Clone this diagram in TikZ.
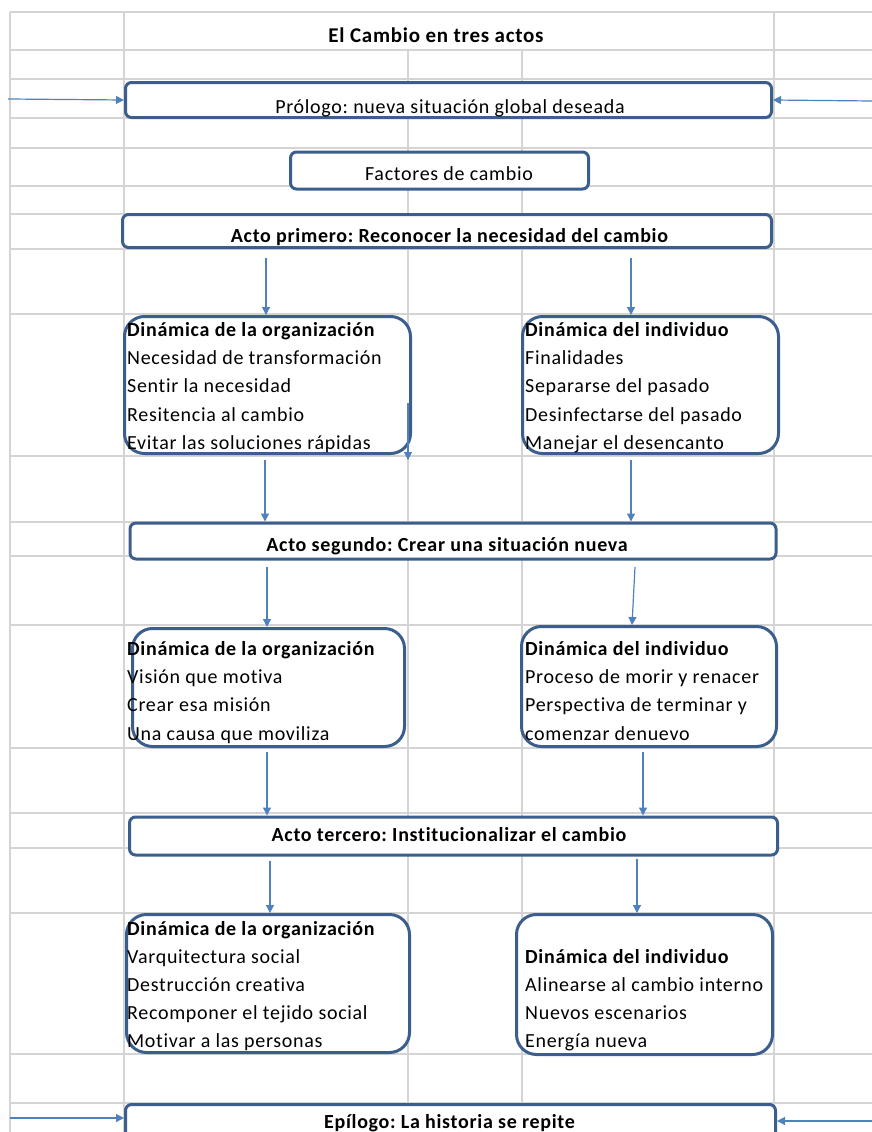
\documentclass[tikz,border=0pt]{standalone}
\usepackage{fontspec}
\setmainfont{Carlito}[LetterSpace=3.5, Ligatures=NoCommon]
\usetikzlibrary{arrows.meta}
\definecolor{gridgray}{RGB}{212,212,212}
\definecolor{boxblue}{RGB}{59,94,140}
\definecolor{arrblue}{RGB}{79,129,189}
\frenchspacing

\begin{document}
\begin{tikzpicture}[x=1pt, y=-1pt, every node/.style={font=\fontsize{20}{28}\selectfont}]
    \tikzstyle{gridl}=[gridgray, line width=1.5pt]
    \tikzstyle{arrs}=[arrblue, line width=1.2pt, -{Triangle[length=8pt,width=8pt]}]
    \tikzstyle{actbox}=[draw=boxblue, fill=white, line width=3pt, rounded corners=6pt, inner sep=0pt]
    \tikzstyle{dynbox}=[actbox, rounded corners=20pt]
    \tikzstyle{txt}=[inner sep=0pt, anchor=base]
    \tikzstyle{ltxt}=[inner sep=0pt, anchor=base west]

    \clip (0,0) rectangle (872,1132);

    % hoja de calculo
    \foreach \y in {12,50,79,118,148,186,214,249,314,456,522,556,625,748,813,848,913,1054,1103}
        \draw[gridl] (10,\y) -- (872,\y);
    \foreach \x in {10,124,774} \draw[gridl] (\x,12) -- (\x,1132);
    \foreach \x in {408,522} \draw[gridl] (\x,50) -- (\x,1132);

    % cajas
    \node[actbox, minimum width=646pt, minimum height=35pt] (prologo) at (448.5,100) {};
    \node[actbox, minimum width=298pt, minimum height=37pt] (factores) at (439.5,170.5) {};
    \node[actbox, minimum width=649pt, minimum height=33pt] (acto1) at (447,231) {};
    \node[dynbox, minimum width=286pt, minimum height=137pt] (org1) at (267.5,385) {};
    \node[dynbox, minimum width=256pt, minimum height=137pt] (ind1) at (650.5,385) {};
    \node[actbox, minimum width=646pt, minimum height=36pt] (acto2) at (453,541) {};
    \node[dynbox, minimum width=272pt, minimum height=118pt] (org2) at (268.5,687.5) {};
    \node[dynbox, minimum width=255pt, minimum height=120pt] (ind2) at (649,686.5) {};
    \node[actbox, minimum width=648pt, minimum height=38pt] (acto3) at (453.5,836) {};
    \node[dynbox, minimum width=283pt, minimum height=138pt] (org3) at (268,983.5) {};
    \node[dynbox, minimum width=256pt, minimum height=140pt] (ind3) at (644.5,984.5) {};
    \node[actbox, minimum width=650pt, minimum height=60pt] (epilogo) at (450.5,1134.5) {};

    % textos
    \node[txt, font=\fontsize{21}{28}\selectfont] (titulo) at (436,43) {\bfseries El Cambio en tres actos};
    \node[txt] (prologo-t) at (450,113) {Prólogo: nueva situación global deseada};
    \node[txt] (factores-t) at (449,180) {Factores de cambio};
    \node[txt] (acto1-t) at (449.5,242) {\bfseries Acto primero: Reconocer la necesidad del cambio};
    \node[txt] (acto2-t) at (447,551) {\bfseries Acto segundo: Crear una situación nueva};
    \node[txt] (acto3-t) at (449,841) {\bfseries Acto tercero: Institucionalizar el cambio};
    \node[txt] (epilogo-t) at (449.5,1128) {\bfseries Epílogo: La historia se repite};

    \foreach \t [count=\i] in {{\bfseries Dinámica de la organización}, Necesidad de transformación,
            Sentir la necesidad, Resitencia al cambio, Evitar las soluciones rápidas}
        \node[ltxt] (org1-\i) at (127, 336+28.4*\i-28.4) {\t};
    \foreach \t [count=\i] in {{\bfseries Dinámica del individuo}, Finalidades,
            Separarse del pasado, Desinfectarse del pasado, Manejar el desencanto}
        \node[ltxt] (ind1-\i) at (525, 336+28.4*\i-28.4) {\t};
    \foreach \t [count=\i] in {{\bfseries Dinámica de la organización}, Visión que motiva,
            Crear esa misión, Una causa que moviliza}
        \node[ltxt] (org2-\i) at (127, 655+28.4*\i-28.4) {\t};
    \foreach \t [count=\i] in {{\bfseries Dinámica del individuo}, Proceso de morir y renacer,
            Perspectiva de terminar y, comenzar denuevo}
        \node[ltxt] (ind2-\i) at (525, 655+28.4*\i-28.4) {\t};
    \foreach \t [count=\i] in {{\bfseries Dinámica de la organización}, Varquitectura social,
            Destrucción creativa, Recomponer el tejido social, Motivar a las personas}
        \node[ltxt] (org3-\i) at (127, 935+28.2*\i-28.2) {\t};
    \foreach \t [count=\i] in {{\bfseries Dinámica del individuo}, Alinearse al cambio interno,
            Nuevos escenarios, Energía nueva}
        \node[ltxt] (ind3-\i) at (525, 963+28.2*\i-28.2) {\t};

    % flechas
    \coordinate (p-l) at (8,99);
    \coordinate (p-r) at (872,101);
    \draw[arrs] (p-l) -- (prologo.west);
    \draw[arrs] (p-r) -- (prologo.east);

    \coordinate (a1o) at (266,258);
    \coordinate (a1i) at (631,258);
    \draw[arrs] (a1o) -- (a1o |- org1.north);
    \draw[arrs] (a1i) -- (a1i |- ind1.north);

    \coordinate (o1a) at (265,460);
    \coordinate (i1a) at (631,460);
    \coordinate (o1x) at (408,403);
    \coordinate (o1y) at (408,460);
    \draw[arrs] (o1a) -- (o1a |- acto2.north);
    \draw[arrs] (i1a) -- (i1a |- acto2.north);
    \draw[arrs] (o1x) -- (o1y);

    \coordinate (a2o) at (267,567);
    \coordinate (a2i) at (635,567);
    \draw[arrs] (a2o) -- (a2o |- org2.north);
    \draw[arrs] (a2i) -- ([xshift=-3pt]a2i |- ind2.north);

    \coordinate (o2a) at (267,752);
    \coordinate (i2a) at (643,752);
    \draw[arrs] (o2a) -- (o2a |- acto3.north);
    \draw[arrs] (i2a) -- (i2a |- acto3.north);

    \coordinate (a3o) at (270,861);
    \coordinate (a3i) at (637,859);
    \draw[arrs] (a3o) -- (a3o |- org3.north);
    \draw[arrs] (a3i) -- (a3i |- ind3.north);

    \coordinate (e-l) at (10,1118);
    \coordinate (e-r) at (872,1121);
    \draw[arrs] (e-l) -- (e-l -| epilogo.west);
    \draw[arrs] (e-r) -- (e-r -| epilogo.east);
\end{tikzpicture}
\end{document}
